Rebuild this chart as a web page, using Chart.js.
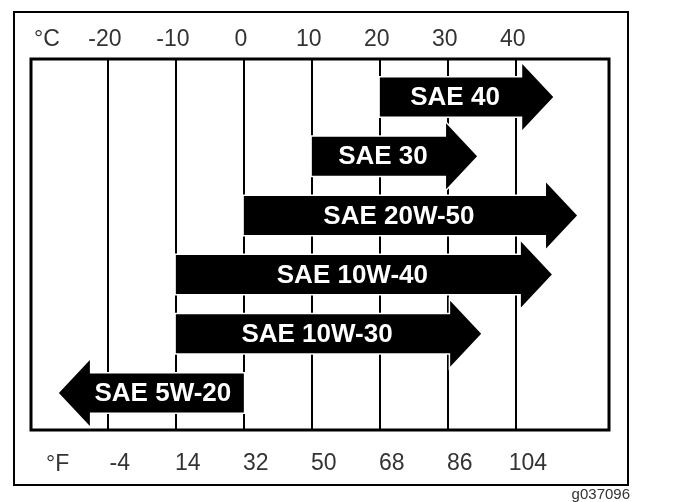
<!DOCTYPE html>
<html>
<head>
<meta charset="utf-8">
<script src="https://cdn.jsdelivr.net/npm/chart.js@4.4.1/dist/chart.umd.min.js"></script>
<style>
  html, body { margin: 0; padding: 0; background: #fff; }
  #oilChart { display: block; }
</style>
</head>
<body>
<canvas id="oilChart" width="678" height="502"></canvas>
<script>
// Oil grades and their temperature ranges (°C)
const grades = ['SAE 40', 'SAE 30', 'SAE 20W-50', 'SAE 10W-40', 'SAE 10W-30', 'SAE 5W-20'];
const fromC = [20, 10, 0, -10, -10, 0];
const toC = [45.5, 34.3, 49, 45.3, 34.9, -27.2];

// Axis ticks
const celsiusTicks = [-20, -10, 0, 10, 20, 30, 40];
const fahrenheitTicks = [-4, 14, 32, 50, 68, 86, 104];

const C_MIN = -31.3;
const C_MAX = 53.7;
const toF = c => c * 1.8 + 32;

const BODY_H = 39;
const HEAD_H = 66;
const HEAD_LEN = 31;
const TEXT_COLOR = '#333';

// Draws the arrows, boxes and extra labels
const arrowPlugin = {
    id: 'arrows',
    beforeDraw(chart) {
        const ctx = chart.ctx;
        ctx.save();
        ctx.fillStyle = '#fff';
        ctx.fillRect(0, 0, chart.width, chart.height);
        ctx.restore();
    },
    afterDatasetsDraw(chart) {
        const ctx = chart.ctx;
        const xs = chart.scales.x;
        const ys = chart.scales.y;
        ctx.save();
        grades.forEach((name, i) => {
            const x0 = xs.getPixelForValue(fromC[i]);
            const x1 = xs.getPixelForValue(toC[i]);
            const y = ys.getPixelForValue(i);
            const dir = x1 > x0 ? 1 : -1;
            const base = x1 - dir * HEAD_LEN;

            ctx.beginPath();
            ctx.moveTo(x0, y - BODY_H / 2);
            ctx.lineTo(base, y - BODY_H / 2);
            ctx.lineTo(base, y - HEAD_H / 2);
            ctx.lineTo(x1, y);
            ctx.lineTo(base, y + HEAD_H / 2);
            ctx.lineTo(base, y + BODY_H / 2);
            ctx.lineTo(x0, y + BODY_H / 2);
            ctx.closePath();
            ctx.strokeStyle = '#fff';
            ctx.lineWidth = 3;
            ctx.stroke();
            ctx.fillStyle = '#000';
            ctx.fill();

            ctx.fillStyle = '#fff';
            ctx.font = 'bold 26px "Liberation Sans", Arial, sans-serif';
            ctx.textAlign = 'center';
            ctx.textBaseline = 'middle';
            ctx.fillText(name, (x0 + base) / 2 + dir * 4, y + 1);
        });
        ctx.restore();
    },
    afterDraw(chart) {
        const ctx = chart.ctx;
        const a = chart.chartArea;
        ctx.save();
        // inner box
        ctx.strokeStyle = '#000';
        ctx.lineWidth = 3;
        ctx.strokeRect(a.left, a.top, a.right - a.left, a.bottom - a.top);
        // outer frame
        ctx.lineWidth = 2;
        ctx.strokeRect(14, 12, 614, 473);

        ctx.fillStyle = TEXT_COLOR;
        ctx.font = '23px "Liberation Sans", Arial, sans-serif';
        ctx.textAlign = 'left';
        ctx.textBaseline = 'middle';
        ctx.fillText('°C', 34, 40);
        ctx.fillText('°F', 46, 465);

        ctx.font = '15px "Liberation Sans", Arial, sans-serif';
        ctx.textAlign = 'right';
        ctx.textBaseline = 'alphabetic';
        ctx.fillText('g037096', 630, 499);
        ctx.restore();
    }
};

const axisFont = { family: '"Liberation Sans", Arial, sans-serif', size: 23 };

const chart = new Chart(document.getElementById('oilChart'), {
    type: 'bar',
    data: {
        datasets: [{
            data: grades.map((g, i) => ({ y: i, x: [fromC[i], toC[i]] })),
            backgroundColor: 'rgba(0,0,0,0)',
            barThickness: BODY_H
        }]
    },
    options: {
        indexAxis: 'y',
        responsive: false,
        animation: false,
        layout: { padding: { left: 31, right: 69, top: 0, bottom: 0 } },
        plugins: {
            legend: { display: false },
            tooltip: { enabled: false }
        },
        scales: {
            x: {
                type: 'linear',
                position: 'top',
                min: C_MIN,
                max: C_MAX,
                afterBuildTicks: s => { s.ticks = celsiusTicks.map(v => ({ value: v })); },
                afterFit: s => { s.height = 59; },
                grid: { color: '#000', lineWidth: 2, drawTicks: false },
                border: { display: false },
                ticks: { padding: 6, labelOffset: -3, color: TEXT_COLOR, font: axisFont, maxRotation: 0 }
            },
            xF: {
                type: 'linear',
                axis: 'x',
                position: 'bottom',
                min: toF(C_MIN),
                max: toF(C_MAX),
                afterBuildTicks: s => { s.ticks = fahrenheitTicks.map(v => ({ value: v })); },
                afterFit: s => { s.height = 72; },
                grid: { display: false, drawTicks: false },
                border: { display: false },
                ticks: { padding: 20, labelOffset: 12, color: TEXT_COLOR, font: axisFont, maxRotation: 0 }
            },
            y: {
                type: 'linear',
                reverse: true,
                offset: false,
                min: -0.642,
                max: 5.625,
                display: false
            }
        }
    },
    plugins: [arrowPlugin]
});
</script>
</body>
</html>
